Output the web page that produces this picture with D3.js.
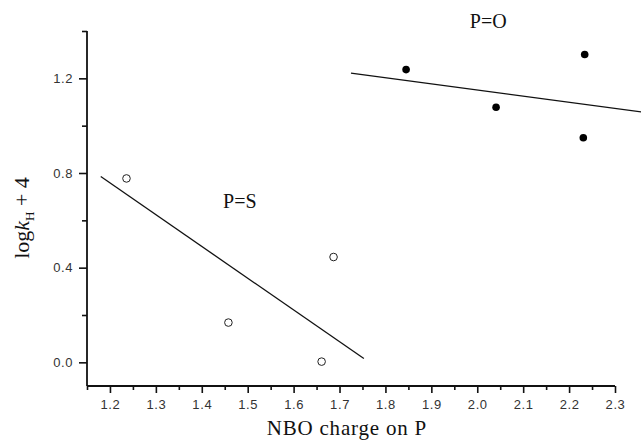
<!DOCTYPE html>
<html>
<head>
<meta charset="utf-8">
<script src="https://cdn.jsdelivr.net/npm/d3@7"></script>
<style>
  html, body { margin: 0; padding: 0; background: #fff; }
  svg { display: block; }
  .tick text { font-family: "Liberation Sans", Arial, sans-serif; font-size: 13px; letter-spacing: 0.6px; fill: #333; }
  .serif { font-family: "Liberation Serif", "Times New Roman", serif; fill: #111; }
</style>
</head>
<body>
<div class="container"></div>
<script>
// DATA
// P=S series (open circles)
const psX = [1.236, 1.458, 1.661, 1.687];
const psY = [0.777, 0.168, 0.003, 0.445];
// P=O series (filled circles)
const poX = [1.845, 2.041, 2.231, 2.234];
const poY = [1.237, 1.078, 0.949, 1.301];
// fitted lines, end points in data units
const psFitX = [1.18, 1.753];
const psFitY = [0.785, 0.016];
const poFitX = [1.725, 2.357];
const poFitY = [1.222, 1.058];
// series labels
const labelText = ["P=O", "P=S"];
const labelX = [2.024, 1.483];
const labelY = [1.412, 0.651];
// ticks
const xTicks = [1.2, 1.3, 1.4, 1.5, 1.6, 1.7, 1.8, 1.9, 2.0, 2.1, 2.2, 2.3];
const xMinorTicks = [1.15, 1.25, 1.35, 1.45, 1.55, 1.65, 1.75, 1.85, 1.95, 2.05, 2.15, 2.25];
const yTicks = [0.0, 0.4, 0.8, 1.2];
const yMinorTicks = [0.2, 0.6, 1.0, 1.4];

// FRAME
const W = 641, H = 442;
const margin = { top: 31, right: 26, bottom: 56, left: 87 };
const width = W - margin.left - margin.right,
      height = H - margin.top - margin.bottom;

const svg = d3.select(".container")
  .append("svg")
  .attr("width", W)
  .attr("height", H);

const g = svg.append("g")
  .attr("transform", `translate(${margin.left}, ${margin.top})`);

// SCALES
const xScale = d3.scaleLinear().domain([1.15, 2.3]).range([0, width]);
const yScale = d3.scaleLinear().domain([-0.1, 1.4]).range([height, 0]);

// AXES
g.append("g")
  .attr("transform", `translate(0, ${height})`)
  .call(d3.axisBottom(xScale).tickValues(xTicks).tickFormat(d3.format(".1f")).tickSize(7).tickPadding(7));

g.append("g")
  .attr("transform", `translate(0, ${height})`)
  .call(d3.axisBottom(xScale).tickValues(xMinorTicks).tickFormat("").tickSize(4));

g.append("g")
  .call(d3.axisLeft(yScale).tickValues(yTicks).tickFormat(d3.format(".1f")).tickSize(8).tickPadding(6));

g.append("g")
  .call(d3.axisLeft(yScale).tickValues(yMinorTicks).tickFormat("").tickSize(5));

// plain L-shaped axes, no end caps
g.selectAll(".domain").remove();
g.append("line")
  .attr("x1", 0).attr("x2", width)
  .attr("y1", height).attr("y2", height)
  .attr("stroke", "#111").attr("stroke-width", 1.8);
g.append("line")
  .attr("x1", 0).attr("x2", 0)
  .attr("y1", 0).attr("y2", height)
  .attr("stroke", "#111").attr("stroke-width", 1.8);
g.selectAll(".tick line").attr("stroke", "#111").attr("stroke-width", 1.6);

// FIT LINES
const line = d3.line().x(d => xScale(d[0])).y(d => yScale(d[1]));
g.append("path")
  .datum(d3.zip(psFitX, psFitY))
  .attr("d", line)
  .attr("fill", "none").attr("stroke", "#111").attr("stroke-width", 1.3);
g.append("path")
  .datum(d3.zip(poFitX, poFitY))
  .attr("d", line)
  .attr("fill", "none").attr("stroke", "#111").attr("stroke-width", 1.3);

// POINTS
g.selectAll("circle.ps")
  .data(d3.zip(psX, psY))
  .enter()
  .append("circle")
  .attr("class", "ps")
  .attr("cx", d => xScale(d[0]))
  .attr("cy", d => yScale(d[1]))
  .attr("r", 3.8)
  .attr("fill", "#fff")
  .attr("stroke", "#222")
  .attr("stroke-width", 1);

g.selectAll("circle.po")
  .data(d3.zip(poX, poY))
  .enter()
  .append("circle")
  .attr("class", "po")
  .attr("cx", d => xScale(d[0]))
  .attr("cy", d => yScale(d[1]))
  .attr("r", 3.8)
  .attr("fill", "#000");

// SERIES LABELS
g.selectAll("text.series")
  .data(labelText)
  .enter()
  .append("text")
  .attr("class", "series serif")
  .attr("x", (d, i) => xScale(labelX[i]))
  .attr("y", (d, i) => yScale(labelY[i]))
  .attr("text-anchor", "middle")
  .attr("font-size", 20)
  .text(d => d);

// AXIS TITLES
svg.append("text")
  .attr("class", "serif")
  .attr("x", margin.left + xScale(1.716))
  .attr("y", 435)
  .attr("text-anchor", "middle")
  .attr("font-size", 21)
  .attr("letter-spacing", 0.8)
  .text("NBO charge on P");

const yTitle = svg.append("text")
  .attr("class", "serif")
  .attr("transform", "translate(29, 218) rotate(-90)")
  .attr("text-anchor", "middle")
  .attr("font-size", 22);
yTitle.append("tspan").text("log");
yTitle.append("tspan").attr("font-style", "italic").text("k");
yTitle.append("tspan").attr("font-size", 13).attr("dy", 5).text("H");
yTitle.append("tspan").attr("dy", -5).text(" + 4");
</script>
</body>
</html>
